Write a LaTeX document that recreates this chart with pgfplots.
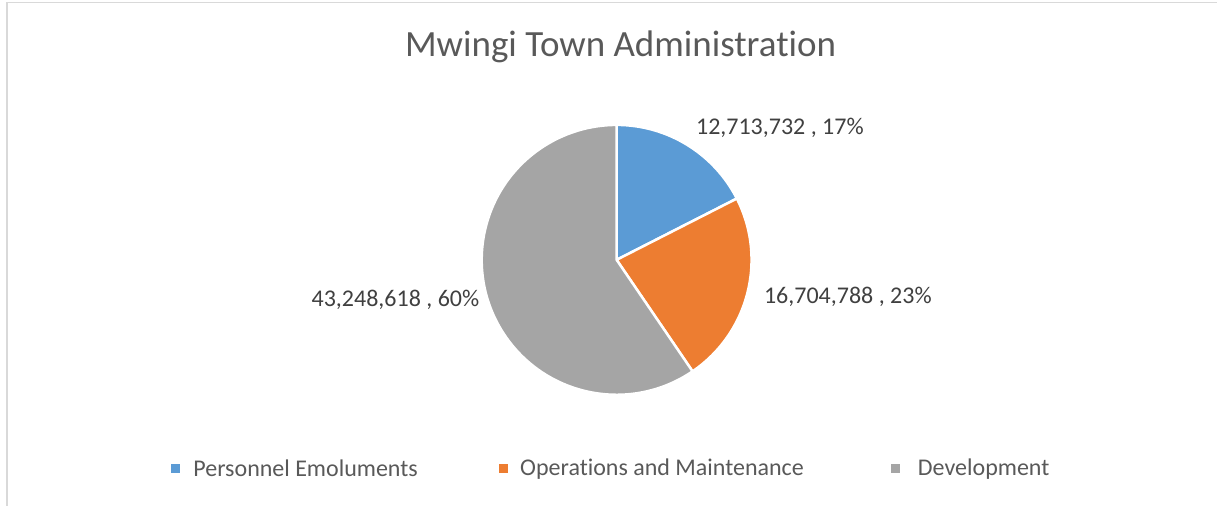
\documentclass[border=0pt]{standalone}
\usepackage{pgfplots}
\pgfplotsset{compat=1.18}
\usepackage{pgfplotstable}
\usepackage{fontspec}
\setmainfont[Ligatures={NoCommon}]{Carlito}
\definecolor{cPE}{HTML}{5B9BD5}
\definecolor{cOM}{HTML}{ED7D31}
\definecolor{cDev}{HTML}{A5A5A5}
\definecolor{titlegray}{HTML}{595959}
\definecolor{labgray}{HTML}{404040}
\definecolor{bordergray}{HTML}{D9D9D9}

\pgfplotstableread[col sep=comma]{
category,value
Personnel Emoluments,12713732
Operations and Maintenance,16704788
Development,43248618
}\piedata

\begin{document}
\begin{tikzpicture}
\pgfplotstablegetelem{0}{value}\of\piedata \edef\vA{\pgfplotsretval}
\pgfplotstablegetelem{1}{value}\of\piedata \edef\vB{\pgfplotsretval}
\pgfplotstablegetelem{2}{value}\of\piedata \edef\vC{\pgfplotsretval}
\edef\tot{\fpeval{\vA+\vB+\vC}}
\edef\aA{\fpeval{90-360*\vA/\tot}}
\edef\aB{\fpeval{\aA-360*\vB/\tot}}
\edef\aC{\fpeval{\aB-360*\vC/\tot}}
\begin{axis}[width=1218pt,height=506pt,scale only axis,
  xmin=0,xmax=1218,ymin=0,ymax=506,hide axis,clip=false]
\path (axis cs:0,0) rectangle (axis cs:1218,506);
\draw[bordergray,line width=1.5pt] (axis cs:7,0) -- (axis cs:7,503.5) -- (axis cs:1218,503.5);
% pie
\filldraw[fill=cPE,draw=white,line width=2.5pt,line join=round]
  (axis cs:617,246) -- ++(90:135pt) arc[start angle=90,end angle=\aA,radius=135pt] -- cycle;
\filldraw[fill=cOM,draw=white,line width=2.5pt,line join=round]
  (axis cs:617,246) -- ++(\aA:135pt) arc[start angle=\aA,end angle=\aB,radius=135pt] -- cycle;
\filldraw[fill=cDev,draw=white,line width=2.5pt,line join=round]
  (axis cs:617,246) -- ++(\aB:135pt) arc[start angle=\aB,end angle=\aC,radius=135pt] -- cycle;
% title
\node[text=titlegray,font=\fontsize{37}{41}\selectfont] at (axis cs:621,459) {Mwingi Town Administration};
% data labels
\node[anchor=west,text=labgray,font=\fontsize{24}{28}\selectfont] at (axis cs:693,378) {12,713,732 , 17\%};
\node[anchor=west,text=labgray,font=\fontsize{24}{28}\selectfont] at (axis cs:761,209) {16,704,788 , 23\%};
\node[anchor=east,text=labgray,font=\fontsize{24}{28}\selectfont] at (axis cs:483,206) {43,248,618 , 60\%};
% legend
\fill[cPE] (axis cs:171,33) rectangle (axis cs:180,42);
\node[anchor=west,text=titlegray,font=\fontsize{24}{28}\selectfont] at (axis cs:190,37) {Personnel Emoluments};
\fill[cOM] (axis cs:499,33) rectangle (axis cs:508,42);
\node[anchor=west,text=titlegray,font=\fontsize{24}{28}\selectfont] at (axis cs:517,37) {Operations and Maintenance};
\fill[cDev] (axis cs:892,33) rectangle (axis cs:901,42);
\node[anchor=west,text=titlegray,font=\fontsize{24}{28}\selectfont] at (axis cs:915,37) {Development};
\end{axis}
\end{tikzpicture}
\end{document}
